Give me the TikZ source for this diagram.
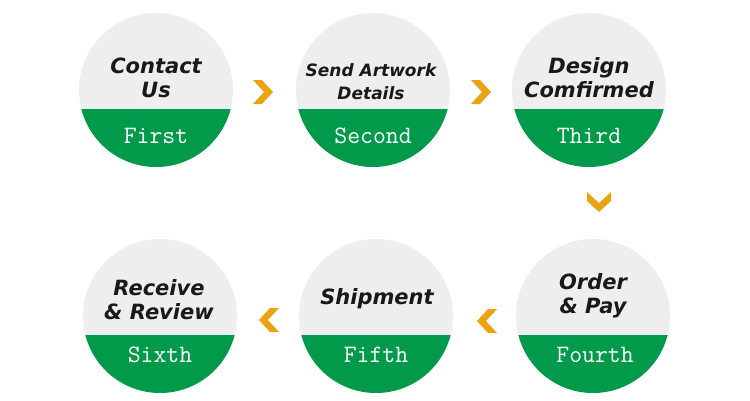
\documentclass[tikz,border=0pt]{standalone}
\usepackage{fontspec}
\setsansfont{DejaVu Sans}
\usetikzlibrary{calc}
\definecolor{discgray}{RGB}{238, 238, 238}
\definecolor{bandgreen}{RGB}{0, 154, 74}
\definecolor{chevcol}{RGB}{233, 163, 19}
\definecolor{inkcol}{RGB}{25, 25, 25}
\tikzset{
  disc/.style  = {circle, fill=discgray, minimum size=154pt, inner sep=0pt,
                  path picture={\fill[bandgreen]
                    ([yshift=-19pt]path picture bounding box.west)
                    rectangle (path picture bounding box.south east);}},
  title/.style = {font=\sffamily\bfseries\itshape\fontsize{21}{24}\selectfont,
                  text=inkcol, align=center, inner sep=0pt},
  small/.style = {title, font=\sffamily\bfseries\itshape\fontsize{17}{23}\selectfont},
  rank/.style  = {font=\ttfamily\fontsize{25}{26}\selectfont, text=white,
                  inner sep=0pt},
  % one chevron, pointing right; turn it for the other directions
  chev/.pic    = {\fill[chevcol] (-10,12) -- (-1,12) -- (10,0) -- (-1,-12)
                  -- (-10,-12) -- (1,0) -- cycle;},
}
\begin{document}
\begin{tikzpicture}[x=1pt, y=1pt]
  \useasboundingbox (0,0) rectangle (750,-400);

  %% ---------------- top row ----------------
  \node[disc] (contact) at (156,-90) {};
  \node[title] (contact-t) at (156,-78) {Contact\\Us};
  \node[rank]  (contact-r) at (156,-136) {First};

  \node[disc] (artwork) at (373,-90) {};
  \node[small] (artwork-t) at (371,-82) {Send Artwork\\Details};
  \node[rank]  (artwork-r) at (373,-136) {Second};

  \node[disc] (design) at (589,-90) {};
  \node[title] (design-t) at (589,-78) {Design\\Comfirmed};
  \node[rank]  (design-r) at (589,-136) {Third};

  %% ---------------- bottom row ----------------
  \node[disc] (order) at (593,-316) {};
  \node[title] (order-t) at (593,-296) {Order\\\& Pay};
  \node[rank]  (order-r) at (595,-355) {Fourth};

  \node[disc] (shipment) at (376,-316) {};
  \node[title] (shipment-t) at (377,-299) {Shipment};
  \node[rank]  (shipment-r) at (376,-355) {Fifth};

  \node[disc] (receive) at (160,-316) {};
  \node[title] (receive-t) at (159,-300) {Receive\\\& Review};
  \node[rank]  (receive-r) at (160,-355) {Sixth};

  %% ---------------- chevrons ----------------
  \pic at (263,-92) {chev};
  \pic at (481,-92) {chev};
  \pic[rotate=-90] at (599,-202) {chev};
  \pic[rotate=180] at (487,-321) {chev};
  \pic[rotate=180] at (269,-320) {chev};

\end{tikzpicture}
\end{document}
